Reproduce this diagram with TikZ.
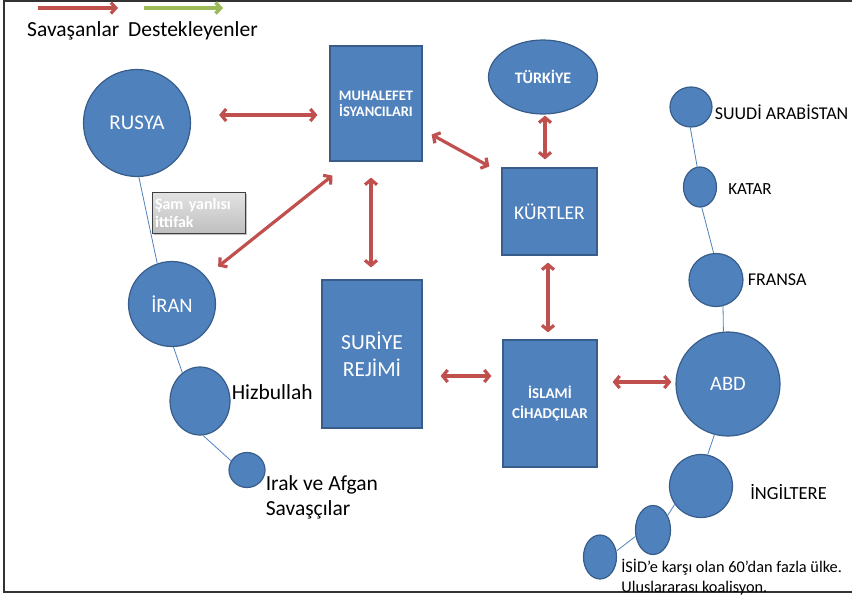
\documentclass[tikz,border=0pt]{standalone}
\usepackage{fontspec}
\setmainfont{Carlito}
\usepackage{tikz}
\usetikzlibrary{shapes.geometric, arrows.meta, positioning, shadows}
\definecolor{nodeblue}{RGB}{79,129,189}
\definecolor{edgeblue}{RGB}{56,93,138}
\definecolor{warred}{RGB}{192,80,77}
\definecolor{supgreen}{RGB}{155,187,89}
\newcommand{\setfs}[2]{\fontsize{#1}{#2}\selectfont}

\begin{document}
\begin{tikzpicture}[
  x=1pt, y=-1pt,
  actor/.style={ellipse, draw=edgeblue, line width=1.2pt, fill=nodeblue,
                text=white, inner sep=0pt},
  party/.style={rectangle, draw=edgeblue, line width=1.2pt, fill=nodeblue,
                text=white, align=center, inner sep=0pt},
  pact/.style={rectangle, draw=black!75, line width=0.8pt, top color=gray!22,
               bottom color=gray!50, text=white, align=left, text width=87pt,
               inner sep=3pt, minimum height=41pt, font=\bfseries\setfs{16}{18},
               drop shadow={shadow xshift=2pt, shadow yshift=-2pt, opacity=0.5}},
  war/.style={{Straight Barb[length=5pt,width=12pt]}-{Straight Barb[length=5pt,width=12pt]},
              line width=3.2pt, warred},
  link/.style={nodeblue, line width=0.8pt},
  lbl/.style={inner sep=0pt, align=left}
]
\useasboundingbox (0,0) rectangle (852,598);
\draw[black!80, line width=1.5pt] (852,1) -- (4,1) -- (4,592) -- (852,592);

% legend
\coordinate (red1) at (38,8);
\coordinate (red2) at (118,8);
\coordinate (green1) at (144,8);
\coordinate (green2) at (223,8);
\draw[-{Straight Barb[length=5pt,width=11pt]}, line width=3.2pt, warred] (red1) -- (red2);
\draw[-{Straight Barb[length=5pt,width=11pt]}, line width=3.6pt, supgreen] (green1) -- (green2);
\node[lbl, anchor=west, font=\setfs{21.5}{24}] (savasan) at (27,31) {Savaşanlar};
\node[lbl, anchor=west, font=\setfs{21.5}{24}] (destek) at (128,31) {Destekleyenler};

% main actors
\node[actor, minimum width=107pt, minimum height=107pt, font=\setfs{21}{24}] (rusya) at (137,123) {RUSYA};
\node[party, minimum width=92pt, minimum height=115pt, font=\bfseries\setfs{14.5}{16}] (muhalefet) at (376,103.5) {MUHALEFET\\İSYANCILARI};
\node[actor, minimum width=109pt, minimum height=74pt, font=\bfseries\setfs{16}{18}] (turkiye) at (543,77) {TÜRKİYE};
\node[party, minimum width=95pt, minimum height=87pt, font=\setfs{19.5}{22}] (kurtler) at (549.5,211.5) {KÜRTLER};
\node[actor, minimum width=87pt, minimum height=85pt, font=\setfs{20.5}{24}] (iran) at (172,304) {İRAN};
\node[actor, minimum width=60pt, minimum height=68pt] (hizbullah) at (200,401) {};
\node[actor, minimum width=36pt, minimum height=35pt] (irak) at (247,470) {};
\node[party, minimum width=100pt, minimum height=148pt, font=\setfs{21.5}{27}] (suriye) at (372,354) {SURİYE\\REJİMİ};
\node[party, minimum width=94pt, minimum height=127pt, font=\bfseries\setfs{15}{20}] (islami) at (550,403.5) {İSLAMİ\\CİHADÇILAR};

% coalition
\node[actor, minimum width=42pt, minimum height=40pt] (suudi) at (691,107) {};
\node[actor, minimum width=33pt, minimum height=40pt] (katar) at (700,187) {};
\node[actor, minimum width=54pt, minimum height=53pt] (fransa) at (716,280) {};
\node[actor, minimum width=104pt, minimum height=104pt, font=\setfs{20.5}{24}] (abd) at (728,384) {ABD};
\node[actor, minimum width=63pt, minimum height=63pt] (ingiltere) at (701,486) {};
\node[actor, minimum width=35pt, minimum height=49pt] (koal1) at (653,530) {};
\node[actor, minimum width=33pt, minimum height=44pt] (koal2) at (600,557) {};

% outside labels
\node[lbl, right=1pt of hizbullah, yshift=9pt, font=\setfs{21.5}{24}] (hizlbl) {Hizbullah};
\node[lbl, right=0pt of irak, yshift=-27pt, font=\setfs{21.5}{25}] (iraklbl) {Irak ve Afgan\\Savaşçılar};
\node[lbl, right=2pt of suudi, yshift=-5pt, font=\setfs{18}{20}] (suudilbl) {SUUDİ ARABİSTAN};
\node[lbl, right=11pt of katar, yshift=-2pt, font=\setfs{17}{20}] (katarlbl) {KATAR};
\node[lbl, right=4pt of fransa, font=\setfs{18}{20}] (fransalbl) {FRANSA};
\node[lbl, right=17pt of ingiltere, yshift=-6pt, font=\setfs{18.5}{20}] (inglbl) {İNGİLTERE};
\node[lbl, right=4pt of koal2, yshift=-20pt, font=\setfs{16.3}{20}] (koallbl) {İSİD’e karşı olan 60’dan fazla ülke.\\Uluslararası koalisyon.};

% alliance chains
\draw[link] (rusya.-88) -- (iran.110);
\draw[link] (iran.-88) -- (hizbullah.122);
\draw[link] (hizbullah.-85) -- (irak.150);
\draw[link] (suudi.-92) -- (katar.98);
\draw[link] (katar.-85) -- (fransa.95);
\draw[link] (fransa.-75) -- (abd.95);
\draw[link] (abd.-105) -- (ingiltere.78);
\draw[link] (ingiltere.215) -- (koal1.45);
\draw[link] (koal1.200) -- (koal2.20);

\node[pact] (sam) at (198.5,212.5) {Şam yanlısı\\ittifak};

% fighting
\draw[war] ([shift={(28,-8)}]rusya.east) -- ([shift={(-12,11.5)}]muhalefet.west);
\draw[war] ([shift={(9,-27)}]muhalefet.south east) -- ([shift={(-12,-1)}]kurtler.north west);
\draw[war] ([shift={(2,1)}]turkiye.south) -- ([shift={(-4.5,-8)}]kurtler.north);
\draw[war] ([shift={(3,14)}]muhalefet.south west) -- ([shift={(15,-7)}]iran.north east);
\draw[war] ([shift={(-5,16)}]muhalefet.south) -- ([shift={(-1,-12)}]suriye.north);
\draw[war] ([shift={(-1.5,7)}]kurtler.south) -- ([shift={(-2,-7)}]islami.north);
\draw[war] ([shift={(18,22)}]suriye.east) -- ([shift={(-11,-27.5)}]islami.west);
\draw[war] ([shift={(15,-21.5)}]islami.east) -- ([shift={(-4,-2)}]abd.west);

\end{tikzpicture}
\end{document}
